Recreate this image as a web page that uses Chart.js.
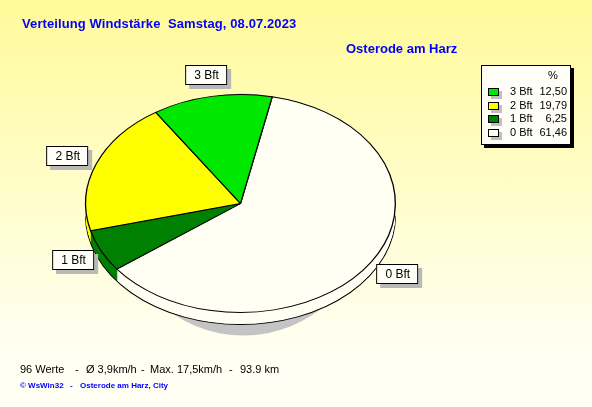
<!DOCTYPE html>
<html><head><meta charset="utf-8">
<script src="https://cdn.jsdelivr.net/npm/chart.js@4/dist/chart.umd.min.js"></script>
<style>
html,body{margin:0;padding:0;}
body{width:592px;height:407px;overflow:hidden;position:relative;
 background:linear-gradient(to bottom,#FFFA9A 0%,#FFFDC8 45%,#FFFFF2 85%,#FFFFF5 100%);
 font-family:"Liberation Sans",Arial,sans-serif;}
#c{position:absolute;left:0;top:0;}
.t{position:absolute;white-space:pre;line-height:1;}
#title{left:22px;top:17px;font-size:13px;font-weight:bold;color:#0000FF;letter-spacing:0.1px;}
#sub{left:346px;top:42px;font-size:13px;font-weight:bold;color:#0000FF;}
.foot{top:364px;font-size:11px;color:#000;}
.copy{top:382px;font-size:8px;font-weight:bold;color:#0000FF;}
#legend{position:absolute;left:481px;top:65px;width:88px;height:78px;background:#FFFFF8;border:1px solid #000;box-shadow:3px 3px 0 #000;font-size:11px;}
.lrow{position:absolute;left:0;width:88px;height:13px;}
.sw{position:absolute;left:6px;top:3px;width:9px;height:6px;border:1px solid #000;box-shadow:3px 3px 0 #c0c0c0;}
.ll{position:absolute;left:28px;top:0;}
.lv{position:absolute;right:3px;top:0;}
.lab{position:absolute;background:#FFFFF8;border:1px solid #000;box-shadow:4px 4px 0 #b8b8b8;font-size:12px;padding:2px 7px 2px 8px;transform:translate(-50%,-50%);white-space:pre;line-height:14px;}
</style></head>
<body>
<canvas id="c" width="592" height="407"></canvas>
<div class="t" id="title">Verteilung Windstärke  Samstag, 08.07.2023</div>
<div class="t" id="sub">Osterode am Harz</div>
<div id="legend"></div>
<div class="t foot" style="left:20px">96 Werte</div>
<div class="t foot" style="left:75px">-</div>
<div class="t foot" style="left:86px">Ø 3,9km/h</div>
<div class="t foot" style="left:141px">-</div>
<div class="t foot" style="left:150px">Max. 17,5km/h</div>
<div class="t foot" style="left:229px">-</div>
<div class="t foot" style="left:240px">93.9 km</div>
<div class="t copy" style="left:20px">© WsWin32</div>
<div class="t copy" style="left:70px">-</div>
<div class="t copy" style="left:80px">Osterode am Harz, City</div>
<script>
// Data (drawing order clockwise from start angle)
const categories = ['0 Bft', '1 Bft', '2 Bft', '3 Bft'];
const percentages = [61.46, 6.25, 19.79, 12.50];
const percentLabels = ['61,46', '6,25', '19,79', '12,50'];
const sliceColors = ['#FFFFF4', '#008000', '#FFFF00', '#00E800'];
const legendHeader = '%';

const K = 0.704;      // vertical squash of the tilted pie
const DEPTH = 12;     // 3D thickness in px

// Legend (reverse order, like reference)
const legend = document.getElementById('legend');
const hdr = document.createElement('div');
hdr.className='t'; hdr.textContent=legendHeader;
hdr.style.left='66px'; hdr.style.top='4px';
legend.appendChild(hdr);
for (let k=categories.length-1, row=0; k>=0; k--, row++) {
  const r = document.createElement('div'); r.className='lrow';
  r.style.top = (19 + row*13.7) + 'px';
  const sw = document.createElement('div'); sw.className='sw'; sw.style.background=sliceColors[k];
  const ll = document.createElement('div'); ll.className='ll'; ll.textContent=categories[k];
  const lv = document.createElement('div'); lv.className='lv'; lv.textContent=percentLabels[k];
  r.appendChild(sw); r.appendChild(ll); r.appendChild(lv); legend.appendChild(r);
}

// Slice label boxes
const labelDivs = categories.map(c => {
  const d = document.createElement('div'); d.className='lab'; d.textContent=c;
  document.body.appendChild(d); return d;
});

function squash(ctx, cx, cy){ ctx.translate(cx, cy); ctx.scale(1, K); ctx.translate(-cx, -cy); }

const tiltPlugin = {
  id: 'tilt',
  beforeDatasetsDraw(chart){
    const ctx = chart.ctx;
    const arcs = chart.getDatasetMeta(0).data;
    const cx = arcs[0].x, cy = arcs[0].y, r = arcs[0].outerRadius;
    ctx.save();
    // shadow
    ctx.fillStyle = '#c4c4c4';
    ctx.beginPath();
    ctx.ellipse(cx + 3, cy + 11, r * 0.80, r * K + 12, 0, 0, Math.PI * 2);
    ctx.fill();
    // extrusion layers
    for (let d = DEPTH; d >= 1; d--) {
      ctx.save();
      ctx.translate(0, d);
      squash(ctx, cx, cy);
      arcs.forEach(a => {
        ctx.beginPath();
        ctx.moveTo(cx, cy);
        ctx.arc(cx, cy, a.outerRadius, a.startAngle, a.endAngle);
        ctx.closePath();
        ctx.fillStyle = a.options.backgroundColor;
        ctx.fill();
      });
      if (d === DEPTH) {
        ctx.beginPath();
        ctx.arc(cx, cy, r, 0, Math.PI);
        ctx.lineWidth = 1.3; ctx.strokeStyle = '#000'; ctx.stroke();
      }
      ctx.restore();
    }
    ctx.restore();
    ctx.save();
    squash(ctx, cx, cy);
  },
  afterDatasetsDraw(chart){
    chart.ctx.restore();
    const arcs = chart.getDatasetMeta(0).data;
    const f = 1.2;
    arcs.forEach((a, i) => {
      const mid = (a.startAngle + a.endAngle) / 2;
      const x = a.x + a.outerRadius * f * Math.cos(mid);
      const y = a.y + a.outerRadius * K * f * Math.sin(mid);
      labelDivs[i].style.left = x + 'px';
      labelDivs[i].style.top = y + 'px';
    });
  }
};

new Chart(document.getElementById('c'), {
  type: 'pie',
  data: {
    labels: categories,
    datasets: [{
      data: percentages,
      backgroundColor: sliceColors,
      borderColor: '#000',
      borderWidth: 1.3,
    }]
  },
  options: {
    responsive: false,
    animation: false,
    rotation: 11.8,
    layout: { padding: { left: 85, right: 196, top: 48, bottom: 48 } },
    plugins: { legend: { display: false }, tooltip: { enabled: false }, title: { display: false } },
    events: []
  },
  plugins: [tiltPlugin]
});
</script>
</body></html>
